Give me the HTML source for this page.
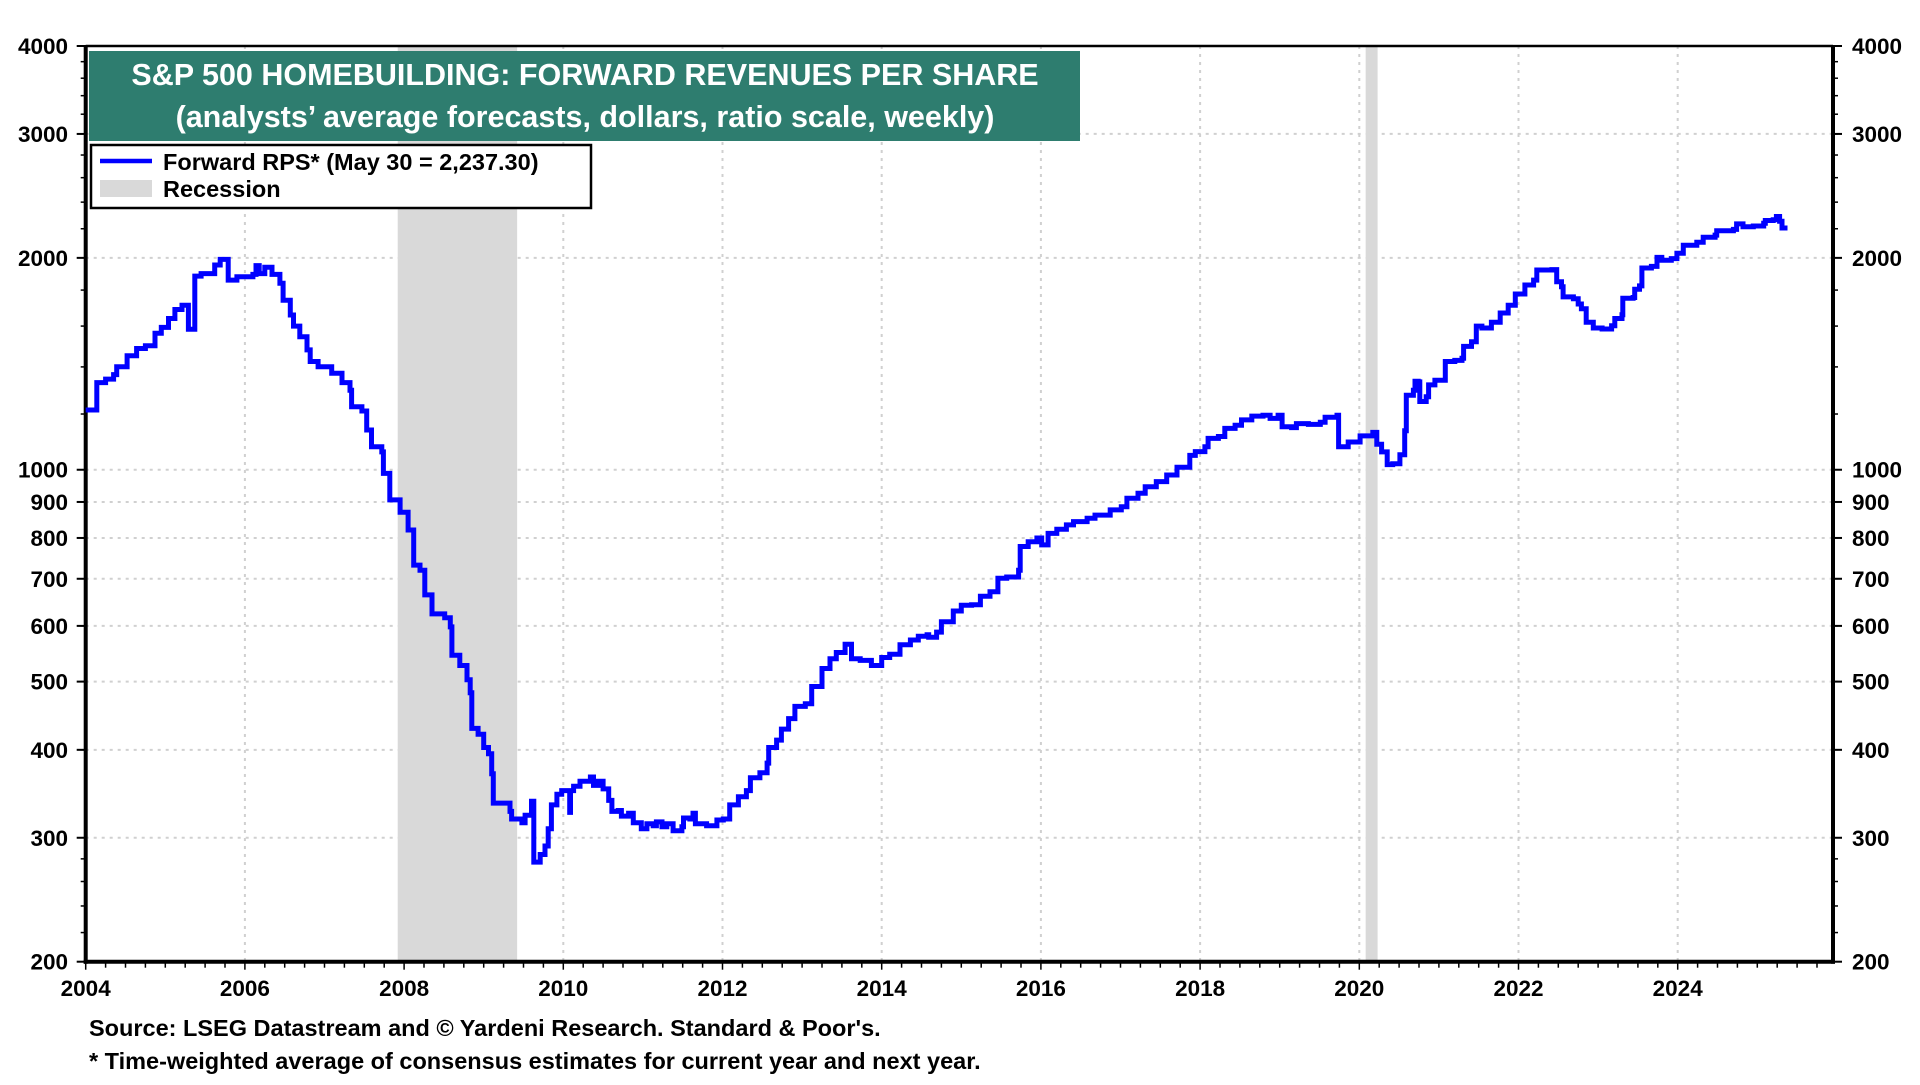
<!DOCTYPE html>
<html><head><meta charset="utf-8"><style>
html,body{margin:0;padding:0;background:#fff;}
svg text{font-family:"Liberation Sans",Arial,sans-serif;font-weight:bold;}
</style></head><body>
<svg id="chart" width="1920" height="1080" viewBox="0 0 1920 1080" xmlns="http://www.w3.org/2000/svg">
<g id="grid"></g>
<g id="rec"></g>
<g id="axes"></g>
<path id="series" fill="none" stroke="#0000ff" stroke-width="5" stroke-linejoin="miter"/>
<rect x="89" y="51" width="991" height="90" fill="#2e7d6f"/>
<text x="585" y="85" text-anchor="middle" font-size="30.5" fill="#fff">S&amp;P 500 HOMEBUILDING: FORWARD REVENUES PER SHARE</text>
<text x="585" y="127" text-anchor="middle" font-size="30.5" fill="#fff">(analysts’ average forecasts, dollars, ratio scale, weekly)</text>
<g>
<rect x="91" y="145" width="500" height="63" fill="#fff" stroke="#000" stroke-width="2.5"/>
<line x1="100" y1="161" x2="152" y2="161" stroke="#0000ff" stroke-width="4.5"/>
<text x="163" y="170" font-size="23.5">Forward RPS* (May 30 = 2,237.30)</text>
<rect x="100" y="180" width="52" height="17" fill="#d9d9d9"/>
<text x="163" y="197" font-size="23.5">Recession</text>
</g>
<text x="89" y="1036" font-size="23.5">Source: LSEG Datastream and © Yardeni Research. Standard &amp; Poor's.</text>
<text x="89" y="1069" font-size="23.5">* Time-weighted average of consensus estimates for current year and next year.</text>
</svg>
<script>
const years=[2004.00,2004.14,2004.25,2004.35,2004.39,2004.52,2004.64,2004.75,2004.87,2004.95,2005.04,2005.12,2005.21,2005.29,2005.37,2005.45,2005.62,2005.69,2005.79,2005.90,2006.10,2006.14,2006.18,2006.25,2006.34,2006.44,2006.48,2006.57,2006.61,2006.69,2006.78,2006.82,2006.92,2007.09,2007.22,2007.32,2007.34,2007.47,2007.53,2007.59,2007.72,2007.74,2007.82,2007.95,2008.05,2008.12,2008.20,2008.26,2008.35,2008.51,2008.58,2008.60,2008.70,2008.79,2008.83,2008.85,2008.93,2009.00,2009.06,2009.10,2009.12,2009.33,2009.35,2009.48,2009.52,2009.60,2009.63,2009.71,2009.77,2009.81,2009.85,2009.92,2009.98,2010.08,2010.09,2010.13,2010.21,2010.34,2010.38,2010.44,2010.50,2010.57,2010.61,2010.69,2010.73,2010.82,2010.88,2010.98,2011.05,2011.13,2011.17,2011.24,2011.30,2011.38,2011.49,2011.51,2011.59,2011.63,2011.66,2011.80,2011.93,2012.01,2012.09,2012.20,2012.30,2012.35,2012.47,2012.56,2012.58,2012.68,2012.74,2012.83,2012.91,2013.04,2013.12,2013.25,2013.35,2013.43,2013.54,2013.62,2013.73,2013.87,2014.00,2014.10,2014.23,2014.36,2014.46,2014.57,2014.59,2014.69,2014.75,2014.90,2015.00,2015.13,2015.24,2015.36,2015.46,2015.57,2015.72,2015.74,2015.84,2015.95,2016.01,2016.09,2016.20,2016.32,2016.41,2016.58,2016.68,2016.87,2017.01,2017.08,2017.22,2017.31,2017.45,2017.58,2017.71,2017.87,2017.94,2018.06,2018.10,2018.23,2018.31,2018.44,2018.52,2018.65,2018.79,2018.88,2018.98,2019.03,2019.15,2019.21,2019.36,2019.51,2019.57,2019.72,2019.74,2019.86,2020.01,2020.17,2020.22,2020.28,2020.35,2020.42,2020.51,2020.57,2020.59,2020.68,2020.70,2020.74,2020.76,2020.84,2020.87,2020.95,2021.08,2021.20,2021.29,2021.31,2021.41,2021.47,2021.54,2021.66,2021.77,2021.87,2021.96,2022.08,2022.19,2022.23,2022.42,2022.48,2022.54,2022.56,2022.69,2022.75,2022.79,2022.85,2022.94,2023.05,2023.17,2023.21,2023.30,2023.31,2023.44,2023.46,2023.52,2023.55,2023.67,2023.74,2023.80,2023.92,2023.99,2024.07,2024.24,2024.32,2024.47,2024.49,2024.70,2024.74,2024.82,2024.95,2025.08,2025.10,2025.20,2025.24,2025.28,2025.31,2025.38];
const rps=[1216,1330,1345,1365,1401,1452,1487,1500,1563,1593,1640,1689,1713,1583,1884,1900,1954,1990,1860,1880,1895,1950,1900,1940,1895,1841,1741,1659,1600,1545,1480,1425,1401,1371,1330,1297,1229,1212,1139,1078,1060,988,906,870,821,732,720,664,624,616,598,545,527,503,482,429,421,403,395,370,336,327,319,315,323,338,277,284,292,309,334,346,350,326,350,355,361,366,356,361,352,339,327,328,322,325,315,309,314,312,316,311,314,307,311,320,319,325,314,312,318,319,334,343,350,365,371,383,403,413,428,443,461,465,492,522,539,550,565,539,536,527,541,547,564,573,580,583,578,588,608,630,642,643,661,671,701,704,720,778,790,800,782,812,823,835,844,853,862,877,886,911,926,946,962,983,1008,1048,1061,1078,1108,1115,1145,1157,1177,1192,1195,1183,1195,1151,1148,1163,1160,1168,1187,1195,1078,1095,1117,1130,1087,1060,1017,1020,1050,1136,1276,1297,1336,1333,1250,1270,1320,1340,1425,1430,1440,1497,1520,1600,1590,1620,1670,1713,1777,1830,1860,1922,1925,1850,1820,1760,1750,1720,1693,1620,1590,1585,1602,1640,1660,1752,1757,1805,1825,1935,1945,2003,1985,1995,2030,2085,2105,2140,2155,2185,2195,2235,2215,2220,2240,2260,2265,2290,2255,2205,2205];
const recStart=[2007.92,2020.08];
const recEnd=[2009.42,2020.23];
const yTickLabels=[200,300,400,500,600,700,800,900,1000,2000,3000,4000];
const xTickLabels=[2004,2006,2008,2010,2012,2014,2016,2018,2020,2022,2024];

const NS="http://www.w3.org/2000/svg";
const X0=85.7,PX=79.6,XR=1833,YT=46,YB=961.7;
function xs(t){return X0+(t-2004)*PX;}
function ys(v){return YT+(Math.log(4000)-Math.log(v))/Math.log(20)*(YB-YT);}
function mk(tag,attrs,parent){const e=document.createElementNS(NS,tag);for(const k in attrs)e.setAttribute(k,attrs[k]);parent.appendChild(e);return e;}

const grid=document.getElementById('grid'),rec=document.getElementById('rec'),axes=document.getElementById('axes');
for(let i=0;i<recStart.length;i++){
  const r=mk('rect',{x:xs(recStart[i]),y:YT,width:xs(recEnd[i])-xs(recStart[i]),height:YB-YT,fill:'#d9d9d9'},rec);
  
  
}
for(const v of yTickLabels){
  if(v===200||v===4000)continue;
  const l=mk('line',{x1:X0,x2:XR,y1:ys(v),y2:ys(v),stroke:'#d0d0d0','stroke-width':2,'stroke-dasharray':'3,5'},grid);
  
  
}
for(const t of xTickLabels){
  if(t===2004)continue;
  const l=mk('line',{x1:xs(t),x2:xs(t),y1:YT,y2:YB,stroke:'#d0d0d0','stroke-width':2,'stroke-dasharray':'3,5'},grid);
  
  
}
mk('line',{x1:X0,y1:YT,x2:XR,y2:YT,stroke:'#000','stroke-width':2.5},axes);
mk('line',{x1:X0,y1:YT-1,x2:X0,y2:YB+2,stroke:'#000','stroke-width':4},axes);
mk('line',{x1:XR,y1:YT-1,x2:XR,y2:YB+2,stroke:'#000','stroke-width':4},axes);
mk('line',{x1:X0-2,y1:YB,x2:XR+2,y2:YB,stroke:'#000','stroke-width':4},axes);
const minor=[];
for(let v=220;v<300;v+=20)minor.push(v);
for(let v=300;v<1000;v+=100)minor.push(v);
for(let v=1200;v<2000;v+=200)minor.push(v);
for(let v=2200;v<4000;v+=200)minor.push(v);
for(const v of minor){
  mk('line',{x1:X0-5,x2:X0,y1:ys(v),y2:ys(v),stroke:'#000','stroke-width':1.5},axes);
  mk('line',{x1:XR,x2:XR+5,y1:ys(v),y2:ys(v),stroke:'#000','stroke-width':1.5},axes);
}
for(const v of yTickLabels){
  mk('line',{x1:X0-9,x2:X0,y1:ys(v),y2:ys(v),stroke:'#000','stroke-width':2},axes);
  mk('line',{x1:XR,x2:XR+9,y1:ys(v),y2:ys(v),stroke:'#000','stroke-width':2},axes);
  const a=mk('text',{x:68,y:ys(v)+8,'text-anchor':'end','font-size':22.5},axes);
  a.textContent=v;
  
  
  const b=mk('text',{x:1852,y:ys(v)+8,'text-anchor':'start','font-size':22.5},axes);
  b.textContent=v;
  
  
}
for(let q=0;q<=22*4-1;q++){
  const t=2004+q/4;
  const major=(q%8===0);
  mk('line',{x1:xs(t),x2:xs(t),y1:YB,y2:YB+(major?8:6),stroke:'#000','stroke-width':1.5},axes);
}
for(const t of xTickLabels){
  const a=mk('text',{x:xs(t),y:996,'text-anchor':'middle','font-size':22.5},axes);
  a.textContent=t;
  
  
}
let d='M'+xs(years[0]).toFixed(1)+','+ys(rps[0]).toFixed(1);
for(let i=1;i<years.length;i++){
  d+=' H'+xs(years[i]).toFixed(1)+' V'+ys(rps[i]).toFixed(1);
}
document.getElementById('series').setAttribute('d',d);
</script>
</body></html>
